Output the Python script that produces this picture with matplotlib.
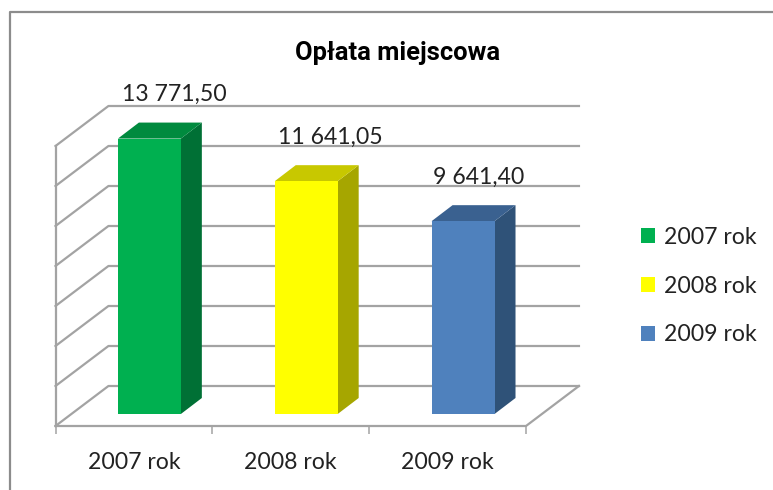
import matplotlib
matplotlib.use("Agg")
import matplotlib.pyplot as plt
from matplotlib.patches import Patch, Polygon, Rectangle

labels = ['2007 rok', '2008 rok', '2009 rok']
values = [13771.50, 11641.05, 9641.40]
value_texts = ['13 771,50', '11 641,05', '9 641,40']
grid_ticks = [0, 2000, 4000, 6000, 8000, 10000, 12000, 14000]
title = 'Opłata miejscowa'

front_colors = ['#00B050', '#FFFF00', '#4F81BD']
side_colors = ['#007035', '#A6A600', '#2F5278']
top_colors = ['#008A3E', '#C8C800', '#3A6190']

plt.rcParams['font.family'] = ['Lato', 'DejaVu Sans']
GRAY = '#A3A3A3'
TXT = '#222222'
FS = 16.6

fig = plt.figure(figsize=(7.73, 4.9), dpi=100, facecolor='white')
W, H = 773, 490

# outer frame, only top and left are in the picture
fig.add_artist(plt.Line2D([10/W, 10/W, 1], [0, 1-12/H, 1-12/H], color='#8C8C8C', lw=1.6))

# axes = front plane of the 3d box
ax = fig.add_axes([55.5/W, (H-426)/H, 470.5/W, 280/H])
ax.set_xlim(0, 3)
ax.set_ylim(0, 14000)
ax.patch.set_visible(False)
for s in ax.spines.values():
    s.set_visible(False)

wall_dx = 53/157
wall_dy = 2000
for v in grid_ticks:
    ax.plot([0, wall_dx, 3+wall_dx], [v, v+wall_dy, v+wall_dy], color=GRAY, lw=1.6, clip_on=False, zorder=1)
ax.plot([0, 0], [0, 14000], color=GRAY, lw=1.6, clip_on=False, zorder=1)
ax.plot([0, 3, 3+wall_dx], [0, 0, wall_dy], color=GRAY, lw=1.6, clip_on=False, zorder=1)

# bars sit a bit above the front edge of the floor
bar_left = 62.5/157
bar_w = 63/157
bar_dx = 21/157
bar_dy = 800
base = 600
label_shift = [17.6, 17.0, 11.2]
for i, v in enumerate(values):
    x0 = i + bar_left
    x1 = x0 + bar_w
    top = v + base
    ax.add_patch(Polygon([(x1, base), (x1+bar_dx, base+bar_dy), (x1+bar_dx, top+bar_dy), (x1, top)],
                         fc=side_colors[i], ec='none', clip_on=False, zorder=3))
    ax.add_patch(Polygon([(x0, top), (x0+bar_dx, top+bar_dy), (x1+bar_dx, top+bar_dy), (x1, top)],
                         fc=top_colors[i], ec='none', clip_on=False, zorder=3))
    ax.add_patch(Rectangle((x0, base), bar_w, v, fc=front_colors[i], ec='none', clip_on=False, zorder=4))
    ax.annotate(value_texts[i], (x0 + bar_w/2, top), xytext=(label_shift[i], 27), textcoords='offset points',
                ha='center', va='baseline', fontsize=FS, color=TXT, zorder=5, annotation_clip=False)

ax.set_yticks([])
ax.set_xticks([0, 1, 2, 3])
ax.set_xticklabels([])
ax.tick_params(axis='x', which='major', length=5.8, width=1.1, color=GRAY)
ax.set_xticks([0.5, 1.5, 2.5], minor=True)
ax.set_xticklabels(labels, minor=True, fontsize=FS, color=TXT)
ax.tick_params(axis='x', which='minor', length=0, pad=18.5)

fig.text(398/W, 1-53/H, title, ha='center', va='center', fontsize=18.4, fontweight='bold',
         family=['Roboto', 'DejaVu Sans'], color='black')

handles = [Patch(fc=c, ec='none', label=l) for c, l in zip(front_colors, labels)]
fig.legend(handles=handles, loc='center left', bbox_to_anchor=(641/W, 1-286/H), frameon=False,
           fontsize=FS, labelcolor=TXT, handlelength=0.61, handleheight=0.61, handletextpad=0.4,
           labelspacing=1.21, borderpad=0, borderaxespad=0)

fig.savefig('out.png', dpi=100)
